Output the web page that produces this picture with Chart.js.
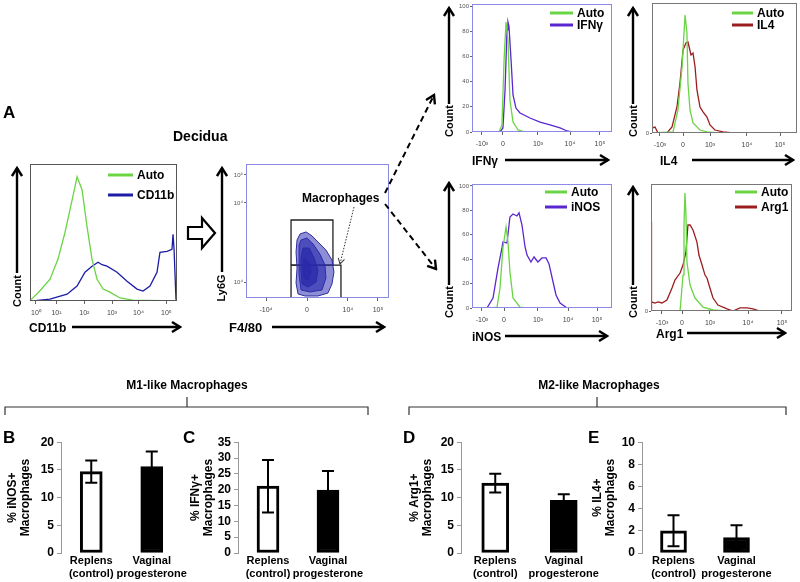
<!DOCTYPE html>
<html>
<head>
<meta charset="utf-8">
<script src="https://cdn.jsdelivr.net/npm/chart.js@4.4.1/dist/chart.umd.min.js"></script>
<style>
body{margin:0;background:#fff;width:800px;height:582px;overflow:hidden;position:relative;font-family:Arial,"Liberation Sans",sans-serif}
canvas{position:absolute}
#deco{position:absolute;left:0;top:0;z-index:2}
</style>
</head>
<body>
<canvas id="cd11b"></canvas>
<canvas id="contour"></canvas>
<canvas id="ifng"></canvas>
<canvas id="il4"></canvas>
<canvas id="inos"></canvas>
<canvas id="arg1"></canvas>
<canvas id="barB"></canvas>
<canvas id="barC"></canvas>
<canvas id="barD"></canvas>
<canvas id="barE"></canvas>

<svg id="deco" width="800" height="582" font-family="Arial, 'Liberation Sans', sans-serif" font-weight="bold">
  <defs>
    <marker id="hd" viewBox="0 0 12 12" refX="10" refY="6" markerWidth="12" markerHeight="12" markerUnits="userSpaceOnUse" orient="auto">
      <path d="M2,1 L10,6 L2,11" fill="none" stroke="#000" stroke-width="2.4" stroke-dasharray="none"/>
    </marker>
    <marker id="hs" viewBox="0 0 10 10" refX="8" refY="5" markerWidth="8" markerHeight="8" markerUnits="userSpaceOnUse" orient="auto">
      <path d="M1,1 L8,5 L1,9" fill="none" stroke="#333" stroke-width="1.2" stroke-dasharray="none"/>
    </marker>
  </defs>
  <g fill="#000">
    <text x="3" y="118" font-size="17">A</text>
    <text x="173" y="141" font-size="14">Decidua</text>
    <text x="3" y="443" font-size="17">B</text>
    <text x="183" y="443" font-size="17">C</text>
    <text x="403" y="443" font-size="17">D</text>
    <text x="588" y="443" font-size="17">E</text>
    <text x="187" y="389" font-size="12" text-anchor="middle">M1-like Macrophages</text>
    <text x="599" y="389" font-size="12" text-anchor="middle">M2-like Macrophages</text>
    <text x="302" y="202" font-size="12">Macrophages</text>
    <!-- axis names -->
    <text x="29" y="332" font-size="12">CD11b</text>
    <text x="229" y="332" font-size="13">F4/80</text>
    <text x="472" y="165" font-size="12">IFNγ</text>
    <text x="660" y="165" font-size="12">IL4</text>
    <text x="472" y="341" font-size="12">iNOS</text>
    <text x="656" y="338" font-size="12">Arg1</text>
    <!-- Count labels -->
    <text transform="translate(21,291) rotate(-90)" font-size="11" text-anchor="middle">Count</text>
    <text transform="translate(225,288) rotate(-90)" font-size="11" text-anchor="middle">Ly6G</text>
    <text transform="translate(453,121) rotate(-90)" font-size="11" text-anchor="middle">Count</text>
    <text transform="translate(637,121) rotate(-90)" font-size="11" text-anchor="middle">Count</text>
    <text transform="translate(453,302) rotate(-90)" font-size="11" text-anchor="middle">Count</text>
    <text transform="translate(637,302) rotate(-90)" font-size="11" text-anchor="middle">Count</text>
  </g>
  <g stroke="#000" stroke-width="2.4" fill="none">
    <line x1="17" y1="273" x2="17" y2="168" marker-end="url(#hd)"/>
    <line x1="72" y1="327" x2="180" y2="327" marker-end="url(#hd)"/>
    <line x1="222" y1="272" x2="222" y2="168" marker-end="url(#hd)"/>
    <line x1="272" y1="327" x2="384" y2="327" marker-end="url(#hd)"/>
    <line x1="449" y1="104" x2="449" y2="8" marker-end="url(#hd)"/>
    <line x1="505" y1="160" x2="608" y2="160" marker-end="url(#hd)"/>
    <line x1="633" y1="104" x2="633" y2="8" marker-end="url(#hd)"/>
    <line x1="692" y1="160" x2="793" y2="160" marker-end="url(#hd)"/>
    <line x1="449" y1="285" x2="449" y2="183" marker-end="url(#hd)"/>
    <line x1="505" y1="336" x2="607" y2="336" marker-end="url(#hd)"/>
    <line x1="633" y1="285" x2="633" y2="187" marker-end="url(#hd)"/>
    <line x1="687" y1="333" x2="785" y2="333" marker-end="url(#hd)"/>
    <line x1="385" y1="193" x2="434" y2="95" stroke-width="2" stroke-dasharray="6 4" marker-end="url(#hd)"/>
    <line x1="385" y1="204" x2="436" y2="269" stroke-width="2" stroke-dasharray="6 4" marker-end="url(#hd)"/>
    <polygon points="188,227 202,227 202,218 215,233 202,248 202,239 188,239" fill="#fff" stroke-width="2.2"/>
  </g>
  <line x1="354" y1="207" x2="340" y2="264" stroke="#333" stroke-width="1" stroke-dasharray="1.5 1.5" marker-end="url(#hs)"/>
  <g stroke="#333" stroke-width="1.2" fill="none">
    <polyline points="5,415 5,407 368,407 368,415"/>
    <line x1="187" y1="407" x2="187" y2="397"/>
    <polyline points="409,415 409,407 786,407 786,415"/>
    <line x1="597" y1="407" x2="597" y2="397"/>
  </g>
</svg>

<script>
// ---- Panel A histograms: x = position across the plot (0-100), y = count (% of scale)
const cd11bAuto = [[0,100],[0,2],[1.2,1.4],[6.8,7.5],[13.6,15.9],[19,30.4],[23.8,50],[27.2,66.7],[30.6,83.3],[32,90.6],[35.4,81.2],[38.8,54.3],[42.2,30.4],[45.6,15.9],[49.7,8.7],[54.4,6.5],[61.2,2.2],[70,0.7],[100,0]]
const cd11bStain = [[0,0],[2,0],[13.6,1.4],[25.2,5],[32,10.9],[37.4,21],[42.2,25.4],[46.3,28.3],[49,26.5],[52.4,25.4],[59.2,21],[66,14.5],[72.8,8.7],[76.9,7.2],[81.6,10.9],[86.4,21],[88.4,35.5],[93.2,36.2],[96.6,37.7],[97.3,48.6],[98,37.7],[99.3,1.4],[100,0]]

const ifngAuto = [[0,0],[19.3,0],[21.4,5.6],[22.9,57.1],[24.3,87.3],[25.7,73],[27.1,25.4],[29.3,7.9],[32.9,1.6],[37.9,0],[100,0]]
const ifngStain = [[0,0],[20,0],[22.1,3.2],[23.6,33.3],[25,81],[25.7,87.3],[26.4,84],[27.9,57.1],[29.3,29.4],[31.4,19],[34.3,15.1],[41.4,11.1],[48.6,7.9],[55.7,5.6],[62.9,3.2],[67.9,0.8],[71.4,0],[100,0]]

const il4Auto = [[0,0],[14.5,0.8],[17.9,17.7],[20.7,50.8],[22.8,90.8],[24.1,76.9],[24.8,38.5],[26.2,17.7],[28.3,7.7],[33.1,2.3],[37.9,0.8],[45,0],[100,0]]
const il4Stain = [[0,3.8],[2.1,4.6],[4.1,0],[10.3,0],[13.8,4.6],[17.2,20],[19.3,38.5],[21.4,63.8],[23.4,69.2],[24.8,70],[26.9,60],[28.3,61.5],[29.7,50.8],[31,33.1],[33.1,20],[35.2,16.2],[37.9,12.3],[40,6.2],[43.4,2.3],[49,0.8],[55.9,0],[100,0]]

const inosAuto = [[0,0],[12.9,0],[17.9,0.8],[20,16.4],[22.1,49.2],[24.3,66.4],[25.7,54.1],[27.1,29.5],[29.3,8.2],[34.3,0.8],[39.3,0],[100,0]]
const inosStain = [[0,0],[10.7,0],[15,8.2],[18.6,32.8],[21.4,49.2],[22.1,54.1],[25,53.3],[27.1,74.6],[29.3,77],[32.1,75.4],[33.6,77.9],[35.7,68],[37.9,50],[39.3,43.4],[42.1,37.7],[44.3,41.8],[47.1,37.7],[50,41],[52.9,41],[55,36.1],[57.9,21.3],[60,10.7],[62.9,4.1],[67.9,0],[100,0]]

const arg1Auto = [[0,0],[20.6,0],[22.7,28.3],[23.4,67.7],[24.1,92.9],[24.8,75.6],[25.5,38.6],[27.7,20.5],[31.2,10.2],[36.9,3.1],[44,0.8],[53.9,0],[100,0]]
const arg1Stain = [[0,0],[0,70.1],[0.7,7.1],[2.8,6.3],[5,7.1],[7.8,6.3],[11.3,8.7],[14.9,18.1],[17,24.4],[20.6,29.9],[22.7,36.2],[24.8,46.5],[26.2,67.7],[27.7,67.7],[29.8,63.8],[32.6,54.3],[34,44.1],[36.2,36.2],[38.3,28.3],[39.7,26],[41.8,18.1],[44,10.2],[47.5,4.7],[53.9,1.6],[58.2,0],[63.1,2.4],[68.1,2.4],[72.3,1.6],[77.3,0],[100,0]]

// ---- F4/80 vs Ly6G contour plot and gates
const contourOuter = [[37.8,47.8],[42,49.3],[46.2,46.3],[50.3,41.8],[55.9,35.8],[60.1,28.4],[61.5,19.4],[60.1,10.4],[57.3,3.7],[50.3,1.5],[41.3,1.5],[36.4,3],[35,11.2],[35.7,22.4],[35,34.3],[35.7,43.3],[37.8,47.8]]
const contourMid = [[38.5,43.3],[42.7,44.8],[46.9,40.3],[51.7,32.8],[55.2,24.6],[55.9,14.9],[53.1,6],[44.8,4.5],[38.5,6],[37.1,17.2],[37.1,29.9],[37.1,39.6],[38.5,43.3]]
const contourInner = [[39.9,37.3],[44.1,37.3],[47.6,29.9],[50.3,20.9],[49,11.9],[43.4,8.2],[39.2,10.4],[38.5,20.9],[38.5,29.9],[39.9,37.3]]
const contourCore = [[40.6,29.9],[44.1,26.9],[45.5,19.4],[43.4,13.4],[40.6,14.9],[39.9,22.4],[40.6,29.9]]
const gateUpper = [[31.5,24.6],[60.8,24.6],[60.8,58.2],[31.5,58.2],[31.5,24.6]]
const gateLower = [[31.5,0],[66.4,0],[66.4,24.6],[31.5,24.6],[31.5,0]]

// ---- axis ticks (positions in plot units) and labels
const cd11bTicks = [4, 18, 37, 55.8, 73.8, 92.8]
const cd11bLabels = ['10⁰', '10¹', '10²', '10³', '10⁴', '10⁵']
const f480Ticks = [14, 42.7, 71.3, 92.3]
const f480Labels = ['-10⁴', '0', '10⁴', '10⁵']
const ly6gTicks = [11.9, 70.9, 91.8]
const ly6gLabels = ['10⁴', '10⁴', '10⁵']
const ifngTicks = [7.1, 22.1, 47.1, 70, 91.4]
const inosTicks = [7.1, 22.9, 47.1, 68.6, 89.3]
const il4Ticks = [5.5, 21.4, 40, 65.5, 88.3]
const arg1Ticks = [7.8, 22, 41.8, 68.8, 92.9]
const biexLabels = ['-10³', '0', '10³', '10⁴', '10⁵']
const countTicks = [0, 20, 40, 60, 80, 100]
const countLabels = ['0', '20', '40', '60', '80', '100']

// ---- B-E bar charts
const groups = [['Replens', '(control)'], ['Vaginal', 'progesterone']]
const inosMean = [14.7, 15.6]
const inosErr = [2.0, 2.7]
const ifngMean = [21.1, 19.9]
const ifngErr = [8.3, 6.0]
const arg1Mean = [12.6, 9.5]
const arg1Err = [1.7, 1.1]
const il4Mean = [2.0, 1.4]
const il4Err = [1.4, 1.1]

const GREEN = '#6ad444'
const NAVY = '#1c1ca6'
const VIOLET = '#5a26d0'
const DKRED = '#9a1e1e'

Chart.defaults.font.family = 'Arial, "Liberation Sans", sans-serif'

function place(cv, area, yW, xH, pad) {
    const left = area.l - yW - pad.l
    const top = area.t - pad.t
    cv.style.left = left + 'px'
    cv.style.top = top + 'px'
    cv.width = area.r + pad.r - left
    cv.height = area.b + xH + pad.b - top
}

const frame = {
    id: 'frame',
    afterDatasetsDraw(chart, args, o) {
        if (!o.color) return
        const a = chart.chartArea, ctx = chart.ctx
        ctx.save()
        ctx.strokeStyle = o.color
        ctx.lineWidth = 1
        ctx.strokeRect(a.left + 0.5, a.top + 0.5, a.right - a.left - 1, a.bottom - a.top - 1)
        ctx.restore()
    }
}

const inLegend = {
    id: 'inLegend',
    afterDatasetsDraw(chart, args, o) {
        if (!o.show) return
        const a = chart.chartArea, ctx = chart.ctx
        ctx.save()
        ctx.font = 'bold ' + o.size + 'px Arial, "Liberation Sans", sans-serif'
        ctx.textBaseline = 'middle'
        chart.data.datasets.forEach((ds, i) => {
            const x = a.right - o.dx
            const y = a.top + o.dy + i * o.gap
            ctx.strokeStyle = ds.borderColor
            ctx.lineWidth = 3
            ctx.beginPath(); ctx.moveTo(x, y); ctx.lineTo(x + o.len, y); ctx.stroke()
            ctx.fillStyle = '#000'
            ctx.fillText(ds.label, x + o.len + 4, y + 0.5)
        })
        ctx.restore()
    }
}

const errBars = {
    id: 'errBars',
    afterDatasetsDraw(chart) {
        const ds = chart.data.datasets[0], meta = chart.getDatasetMeta(0), y = chart.scales.y, ctx = chart.ctx
        ctx.save()
        ctx.strokeStyle = '#000'
        ctx.lineWidth = 2
        meta.data.forEach((bar, i) => {
            const yt = y.getPixelForValue(ds.data[i] + ds.errors[i])
            const yb = y.getPixelForValue(ds.data[i] - ds.errors[i])
            ctx.beginPath()
            ctx.moveTo(bar.x, yt); ctx.lineTo(bar.x, yb)
            ctx.moveTo(bar.x - 6, yt); ctx.lineTo(bar.x + 6, yt)
            ctx.moveTo(bar.x - 6, yb); ctx.lineTo(bar.x + 6, yb)
            ctx.stroke()
        })
        ctx.restore()
    }
}

function histo(id, area, yW, sets, o) {
    const cv = document.getElementById(id)
    const pad = {l: 0, t: 8, r: 10, b: 0}
    place(cv, area, yW, 18, pad)
    new Chart(cv, {
        type: 'scatter',
        data: {
            datasets: sets.map(s => ({
                label: s.label,
                data: s.pts.map(p => ({x: p[0], y: p[1]})),
                borderColor: s.color,
                backgroundColor: s.fillColor || 'transparent',
                borderWidth: s.width || 1.3,
                fill: s.fillColor ? 'shape' : false,
                showLine: true,
                pointRadius: 0,
                tension: 0
            }))
        },
        options: {
            responsive: false,
            animation: false,
            layout: {padding: {left: pad.l, top: pad.t, right: pad.r, bottom: pad.b}},
            plugins: {
                legend: {display: false},
                tooltip: {enabled: false},
                frame: {color: o.frame},
                inLegend: o.legend || {show: false}
            },
            scales: {
                x: {
                    type: 'linear', min: 0, max: 100,
                    afterBuildTicks(s) { s.ticks = o.xTicks.map(v => ({value: v})) },
                    ticks: {callback: (v, i) => o.xLabels[i], font: {size: 7}, color: '#444', padding: 5, maxRotation: 0, autoSkip: false},
                    grid: {drawOnChartArea: false, tickLength: 3, color: '#666'},
                    border: {display: false},
                    afterFit(s) { s.height = 18 }
                },
                y: {
                    min: 0, max: o.yMax || 100,
                    afterBuildTicks(s) { s.ticks = o.yTicks.map(v => ({value: v})) },
                    ticks: {display: o.yTicks.length > 0, callback: (v, i) => o.yLabels[i], font: {size: 6}, color: '#555', padding: 1, autoSkip: false},
                    grid: {drawOnChartArea: false, tickLength: 2, color: '#666'},
                    border: {display: false},
                    afterFit(s) { s.width = yW }
                }
            }
        },
        plugins: [frame, inLegend]
    })
}

function barChart(id, area, yW, thick, mean, err, max, step, title) {
    const cv = document.getElementById(id)
    const pad = {l: 3, t: 10, r: 22, b: 0}
    const w = yW - pad.l
    place(cv, area, w, 29, pad)
    new Chart(cv, {
        type: 'bar',
        data: {
            labels: groups,
            datasets: [{
                data: mean,
                errors: err,
                backgroundColor: ['#fff', '#000'],
                borderColor: '#000',
                borderWidth: 3,
                borderSkipped: false,
                barThickness: thick
            }]
        },
        options: {
            responsive: false,
            animation: false,
            layout: {padding: {left: pad.l, top: pad.t, right: pad.r, bottom: pad.b}},
            plugins: {legend: {display: false}, tooltip: {enabled: false}},
            scales: {
                x: {
                    grid: {display: false, drawTicks: false},
                    border: {display: false},
                    ticks: {color: '#000', font: {size: 11, weight: 'bold', lineHeight: 1.15}, padding: 2, maxRotation: 0, autoSkip: false},
                    afterFit(s) { s.height = 29 }
                },
                y: {
                    min: 0, max: max,
                    ticks: {stepSize: step, color: '#000', font: {size: 12, weight: 'bold'}, padding: 3, autoSkip: false},
                    grid: {drawOnChartArea: false, tickLength: 4, color: '#999'},
                    border: {color: '#999'},
                    title: {display: true, text: title, color: '#000', font: {size: 12, weight: 'bold', lineHeight: 1.1}, padding: 0},
                    afterFit(s) { s.width = w }
                }
            }
        },
        plugins: [errBars]
    })
}

histo('cd11b', {l: 30, t: 164, r: 177, b: 301}, 6, [
    {label: 'Auto', pts: cd11bAuto, color: GREEN},
    {label: 'CD11b', pts: cd11bStain, color: NAVY}
], {xTicks: cd11bTicks, xLabels: cd11bLabels, yTicks: [], yLabels: [], frame: '#555',
    legend: {show: true, dx: 69, dy: 11, gap: 20, len: 25, size: 12}})

histo('contour', {l: 246, t: 164, r: 389, b: 298}, 20, [
    {label: 'outer', pts: contourOuter, color: '#2a2aa2', fillColor: 'rgba(50,50,180,0.55)', width: 1},
    {label: 'mid', pts: contourMid, color: '#23239c', fillColor: 'rgba(35,35,165,0.65)', width: 1},
    {label: 'inner', pts: contourInner, color: '#1e1e94', fillColor: 'rgba(30,30,150,0.75)', width: 1},
    {label: 'core', pts: contourCore, color: '#1a1a8a', fillColor: 'rgba(25,25,140,0.8)', width: 1},
    {label: 'gate1', pts: gateUpper, color: '#222', width: 1.3},
    {label: 'gate2', pts: gateLower, color: '#222', width: 1.3}
], {xTicks: f480Ticks, xLabels: f480Labels, yTicks: ly6gTicks, yLabels: ly6gLabels, frame: '#8a8ae2'})

histo('ifng', {l: 472, t: 4, r: 612, b: 132}, 16, [
    {label: 'Auto', pts: ifngAuto, color: GREEN},
    {label: 'IFNγ', pts: ifngStain, color: VIOLET}
], {xTicks: ifngTicks, xLabels: biexLabels, yTicks: countTicks, yLabels: countLabels, yMax: 101.6, frame: '#8a8ae6',
    legend: {show: true, dx: 62, dy: 9, gap: 12, len: 23, size: 12}})

histo('il4', {l: 652, t: 3, r: 797, b: 133}, 12, [
    {label: 'Auto', pts: il4Auto, color: GREEN},
    {label: 'IL4', pts: il4Stain, color: DKRED}
], {xTicks: il4Ticks, xLabels: biexLabels, yTicks: [0], yLabels: ['0'], frame: '#777',
    legend: {show: true, dx: 65, dy: 10, gap: 12, len: 21, size: 12}})

histo('inos', {l: 472, t: 184, r: 612, b: 308}, 16, [
    {label: 'Auto', pts: inosAuto, color: GREEN},
    {label: 'iNOS', pts: inosStain, color: VIOLET}
], {xTicks: inosTicks, xLabels: biexLabels, yTicks: countTicks, yLabels: countLabels, yMax: 101.6, frame: '#8a8ae6',
    legend: {show: true, dx: 67, dy: 8, gap: 15, len: 22, size: 12}})

histo('arg1', {l: 651, t: 184, r: 792, b: 311}, 12, [
    {label: 'Auto', pts: arg1Auto, color: GREEN},
    {label: 'Arg1', pts: arg1Stain, color: DKRED}
], {xTicks: arg1Ticks, xLabels: biexLabels, yTicks: [0], yLabels: ['0'], frame: '#777',
    legend: {show: true, dx: 57, dy: 8, gap: 15, len: 22, size: 12}})

barChart('barB', {l: 61, t: 442, r: 182, b: 553}, 58, 22, inosMean, inosErr, 20, 5, ['% iNOS+', 'Macrophages'])
barChart('barC', {l: 238, t: 442, r: 358, b: 553}, 52, 22, ifngMean, ifngErr, 35, 5, ['% IFNγ+', 'Macrophages'])
barChart('barD', {l: 461, t: 442, r: 598, b: 553}, 56, 27, arg1Mean, arg1Err, 20, 5, ['% Arg1+', 'Macrophages'])
barChart('barE', {l: 642, t: 442, r: 768, b: 553}, 54, 26, il4Mean, il4Err, 10, 2, ['% IL4+', 'Macrophages'])
</script>
</body>
</html>
